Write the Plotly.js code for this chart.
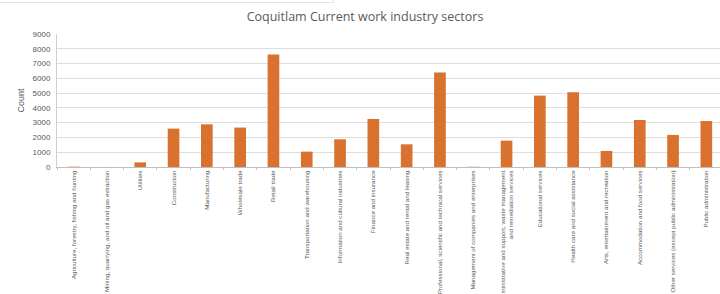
<!DOCTYPE html>
<html>
<head>
<meta charset="utf-8">
<script src="https://cdn.plot.ly/plotly-3.0.1.min.js"></script>
<style>
html,body{margin:0;padding:0;background:#fff;overflow:hidden;width:720px;height:294px;}
#chart{width:726px;height:294px;}
#topbox{position:absolute;left:0;top:0;width:333px;height:2px;border-bottom:1px solid #e2e2e2;border-right:1px solid #e2e2e2;}
</style>
</head>
<body>
<div id="chart"></div>
<div id="topbox"></div>
<script>
const categories = [
  "Agriculture, forestry, fishing and hunting",
  "Mining, quarrying, and oil and gas extraction",
  "Utilities",
  "Construction",
  "Manufacturing",
  "Wholesale trade",
  "Retail trade",
  "Transportation and warehousing",
  "Information and cultural industries",
  "Finance and insurance",
  "Real estate and rental and leasing",
  "Professional, scientific and technical services",
  "Management of companies and enterprises",
  "Administrative and support, waste management<br>and remediation services",
  "Educational services",
  "Health care and social assistance",
  "Arts, entertainment and recreation",
  "Accommodation and food services",
  "Other services (except public administration)",
  "Public administration"
];
const counts = [60, 10, 310, 2600, 2890, 2670, 7610, 1040, 1875, 3250, 1535, 6390, 40, 1785, 4830, 5060, 1085, 3180, 2170, 3115];
const yTicks = [0, 1000, 2000, 3000, 4000, 5000, 6000, 7000, 8000, 9000];

const colors = counts.map(v => v < 100 ? "#f4c7a8" : "#d9722e");

const data = [{
  type: "bar",
  x: categories,
  y: counts,
  marker: {color: colors, line: {width: 0}},
  hoverinfo: "x+y"
}];

const layout = {
  width: 726,
  height: 294,
  margin: {l: 57, r: 3, t: 34, b: 127},
  paper_bgcolor: "#ffffff",
  plot_bgcolor: "#ffffff",
  bargap: 0.65,
  showlegend: false,
  title: {
    text: "Coquitlam Current work industry sectors",
    font: {family: "'Open Sans', Lato, sans-serif", size: 12.5, color: "#595959"},
    x: 365/726, xref: "container", xanchor: "center",
    y: 1 - 17/294, yref: "container", yanchor: "middle"
  },
  xaxis: {
    type: "category",
    tickangle: -90,
    tickfont: {family: "'Liberation Sans Narrow', 'Liberation Sans', sans-serif", size: 6.2, color: "#595959"},
    showline: true, linecolor: "#bfbfbf", linewidth: 1,
    ticks: "outside", tickson: "boundaries", ticklen: 2, tickcolor: "#bfbfbf",
    showgrid: false, automargin: false, fixedrange: true
  },
  yaxis: {
    range: [0, 9000],
    tickvals: yTicks,
    ticktext: yTicks.map(String),
    tickfont: {family: "'Liberation Sans', Arial, sans-serif", size: 8, color: "#595959"},
    showgrid: true, gridcolor: "#dedede", gridwidth: 1,
    showline: true, linecolor: "#d0d0d0", linewidth: 1,
    ticks: "", zeroline: false, automargin: false,
    ticklabelstandoff: 4,
    title: {text: "Count", font: {family: "'Liberation Sans Narrow', 'Liberation Sans', sans-serif", size: 9, color: "#595959"}, standoff: 6}
  }
};

Plotly.newPlot("chart", data, layout, {displayModeBar: false, staticPlot: true});
</script>
</body>
</html>
